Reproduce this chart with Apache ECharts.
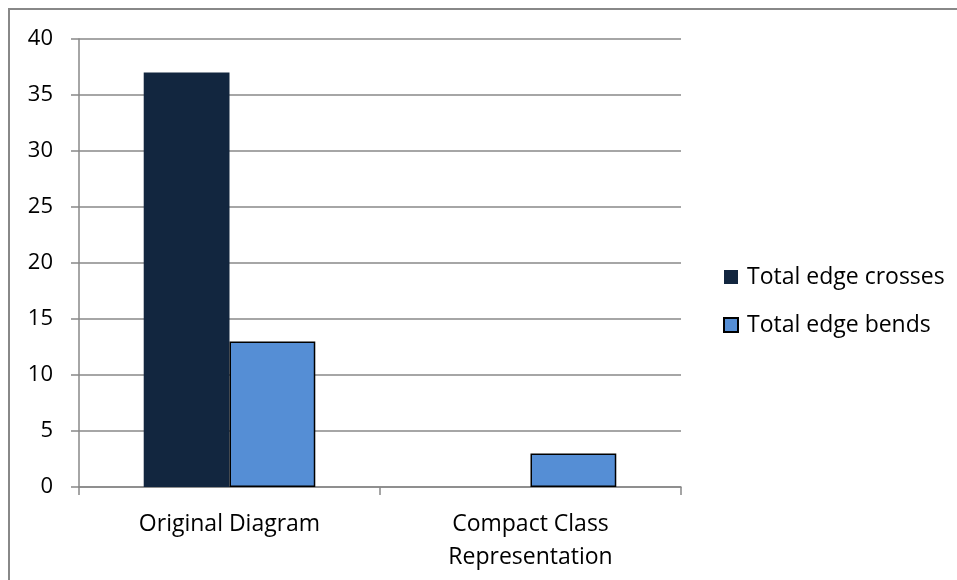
<!DOCTYPE html>
<html>
<head>
<meta charset="utf-8">
<script src="https://cdn.jsdelivr.net/npm/echarts@6/dist/echarts.min.js"></script>
<style>
html,body{margin:0;padding:0;background:#fff;}
#chart{width:957px;height:580px;}
</style>
</head>
<body>
<div id="chart"></div>
<script>
var categories = ['Original Diagram', 'Compact Class\nRepresentation'];
var seriesNames = ['Total edge crosses', 'Total edge bends'];
var edgeCrosses = [37, 0];
var edgeBends = [13, 3];
var yTicks = {min: 0, max: 40, interval: 5};

var FONT = '"Open Sans", sans-serif';
var chart = echarts.init(document.getElementById('chart'), null, {renderer: 'canvas'});
chart.setOption({
  animation: false,
  backgroundColor: '#ffffff',
  graphic: [{
    type: 'rect',
    shape: {x: 9, y: 9, width: 1200, height: 900},
    style: {fill: 'none', stroke: '#888888', lineWidth: 2},
    silent: true
  }],
  grid: {left: 79, top: 39, right: 276, bottom: 93, containLabel: false},
  legend: {
    orient: 'vertical',
    left: 723,
    top: 264,
    padding: 0,
    itemWidth: 14,
    itemHeight: 14,
    itemGap: 22,
    icon: 'rect',
    textStyle: {fontFamily: FONT, fontSize: 23, color: '#000', lineHeight: 26, padding: [0, 0, 0, 4]},
    data: seriesNames
  },
  xAxis: {
    type: 'category',
    data: categories,
    axisLine: {lineStyle: {color: '#888888', width: 1.5}},
    axisTick: {show: true, length: 8, lineStyle: {color: '#888888', width: 1.5}},
    axisLabel: {fontFamily: FONT, fontSize: 23, color: '#000', margin: 21, lineHeight: 33}
  },
  yAxis: {
    type: 'value',
    min: yTicks.min,
    max: yTicks.max,
    interval: yTicks.interval,
    axisLine: {show: true, lineStyle: {color: '#888888', width: 1.5}},
    axisTick: {show: true, length: 8, lineStyle: {color: '#888888', width: 1.5}},
    axisLabel: {fontFamily: FONT, fontSize: 22, color: '#000', margin: 26},
    splitLine: {show: true, lineStyle: {color: '#888888', width: 1.5}}
  },
  series: [{
    name: seriesNames[0],
    type: 'bar',
    data: edgeCrosses,
    barGap: '0%',
    barCategoryGap: '43%',
    itemStyle: {color: '#12263F'}
  }, {
    name: seriesNames[1],
    type: 'bar',
    data: edgeBends,
    barGap: '0%',
    barCategoryGap: '43%',
    itemStyle: {color: '#558ED5', borderColor: '#000', borderWidth: 1.5}
  }]
});
</script>
</body>
</html>
